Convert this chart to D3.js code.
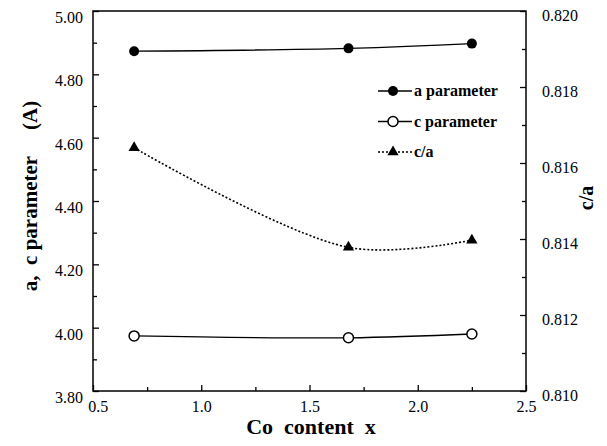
<!DOCTYPE html>
<html>
<head>
<meta charset="utf-8">
<script src="https://cdn.jsdelivr.net/npm/d3@7"></script>
<style>
  body { margin: 0; background: #fff; }
  svg text { font-family: "Liberation Serif", "Times New Roman", serif; fill: #000; }
</style>
</head>
<body>
<div id="chart"></div>
<script>
// values
var coContent = [0.69, 1.68, 2.25];
var aParam = [4.873, 4.882, 4.897];
var cParam = [3.974, 3.968, 3.980];
var cOverA = [0.8164, 0.81378, 0.81397];

var xMajor = [0.5, 1.0, 1.5, 2.0, 2.5];
var xMinor = [0.75, 1.25, 1.75, 2.25];
var leftMajor = [3.80, 4.00, 4.20, 4.40, 4.60, 4.80, 5.00];
var leftMinor = [3.90, 4.10, 4.30, 4.50, 4.70, 4.90];
var rightMajor = [0.810, 0.812, 0.814, 0.816, 0.818, 0.820];
var rightMinor = [0.811, 0.813, 0.815, 0.817, 0.819];

var legendItems = ["a parameter", "c parameter", "c/a"];

var width = 607, height = 446;
var pLeft = 93, pRight = 526, pTop = 11, pBottom = 391;
var serif = '"Liberation Serif", "Times New Roman", serif';

var svg = d3.select('#chart').append('svg')
  .attr('width', width)
  .attr('height', height);

var x = d3.scaleLinear().domain([0.5, 2.5]).range([pLeft, pRight]);
var y = d3.scaleLinear().domain([3.8, 5.0]).range([pBottom, pTop]);
var y2 = d3.scaleLinear().domain([0.810, 0.820]).range([pBottom, pTop]);

// frame
svg.append('rect')
  .attr('x', pLeft).attr('y', pTop)
  .attr('width', pRight - pLeft).attr('height', pBottom - pTop)
  .attr('fill', 'none').attr('stroke', '#000').attr('stroke-width', 1.5);

function ticksOnly(g) {
  g.select('.domain').remove();
  g.selectAll('.tick line').attr('stroke', '#000').attr('stroke-width', 1.3);
}
function labelsOnly(g) {
  g.attr('font-family', null);
  g.select('.domain').remove();
  g.selectAll('.tick line').remove();
  g.selectAll('.tick text').style('font-family', serif).style('font-size', '16px');
}

// inward ticks
svg.append('g').attr('transform', 'translate(' + pLeft + ',0)')
  .call(d3.axisRight(y).tickValues(leftMajor).tickSize(6).tickFormat('')).call(ticksOnly);
svg.append('g').attr('transform', 'translate(' + pLeft + ',0)')
  .call(d3.axisRight(y).tickValues(leftMinor).tickSize(4).tickFormat('')).call(ticksOnly);
svg.append('g').attr('transform', 'translate(' + pRight + ',0)')
  .call(d3.axisLeft(y2).tickValues(rightMajor).tickSize(6).tickFormat('')).call(ticksOnly);
svg.append('g').attr('transform', 'translate(' + pRight + ',0)')
  .call(d3.axisLeft(y2).tickValues(rightMinor).tickSize(4).tickFormat('')).call(ticksOnly);
svg.append('g').attr('transform', 'translate(0,' + pBottom + ')')
  .call(d3.axisTop(x).tickValues(xMajor).tickSize(6).tickFormat('')).call(ticksOnly);
svg.append('g').attr('transform', 'translate(0,' + pBottom + ')')
  .call(d3.axisTop(x).tickValues(xMinor).tickSize(4).tickFormat('')).call(ticksOnly);

// tick labels
svg.append('g').attr('transform', 'translate(' + pLeft + ',0)')
  .call(d3.axisLeft(y).tickValues(leftMajor).tickSize(0).tickPadding(10).tickFormat(d3.format('.2f')))
  .call(labelsOnly)
  .selectAll('text').attr('dy', '0.72em');
svg.append('g').attr('transform', 'translate(' + pRight + ',0)')
  .call(d3.axisRight(y2).tickValues(rightMajor).tickSize(0).tickPadding(16).tickFormat(d3.format('.3f')))
  .call(labelsOnly)
  .selectAll('text').attr('dy', '0.62em');
svg.append('g').attr('transform', 'translate(0,' + pBottom + ')')
  .call(d3.axisBottom(x).tickValues(xMajor).tickSize(0).tickPadding(10).tickFormat(d3.format('.1f')))
  .call(labelsOnly)
  .selectAll('text').attr('dx', function(d) { return d === 0.5 ? '0.3em' : 0; });

// axis titles
svg.append('text')
  .attr('transform', 'translate(37,' + 196 + ') rotate(-90)')
  .attr('text-anchor', 'middle')
  .style('font-size', '21px').style('font-weight', 'bold')
  .style('white-space', 'pre')
  .text('a,  c parameter     (A)');
svg.append('text')
  .attr('x', 311).attr('y', 434)
  .attr('text-anchor', 'middle')
  .style('font-size', '22px').style('font-weight', 'bold')
  .style('white-space', 'pre')
  .text('Co  content  x');
svg.append('text')
  .attr('transform', 'translate(593,' + 198 + ') rotate(-90)')
  .attr('text-anchor', 'middle')
  .style('font-size', '20px').style('font-weight', 'bold')
  .text('c/a');

// series
var pts = function(ys, scale) {
  return coContent.map(function(d, i) { return [x(d), scale(ys[i])]; });
};
var line = d3.line().curve(d3.curveCatmullRom.alpha(0.5));

svg.append('path').attr('d', line(pts(aParam, y)))
  .attr('fill', 'none').attr('stroke', '#000').attr('stroke-width', 1.3);
svg.append('path').attr('d', line(pts(cParam, y)))
  .attr('fill', 'none').attr('stroke', '#000').attr('stroke-width', 1.3);
svg.append('path').attr('d', line(pts(cOverA, y2)))
  .attr('fill', 'none').attr('stroke', '#000').attr('stroke-width', 1.6)
  .attr('stroke-dasharray', '2,2');

svg.selectAll('.ptA').data(pts(aParam, y)).enter().append('circle')
  .attr('cx', function(d) { return d[0]; }).attr('cy', function(d) { return d[1]; })
  .attr('r', 5).attr('fill', '#000');
svg.selectAll('.ptC').data(pts(cParam, y)).enter().append('circle')
  .attr('cx', function(d) { return d[0]; }).attr('cy', function(d) { return d[1]; })
  .attr('r', 5).attr('fill', '#fff').attr('stroke', '#000').attr('stroke-width', 1.5);
var tri = d3.symbol().type(d3.symbolTriangle).size(55);
svg.selectAll('.ptR').data(pts(cOverA, y2)).enter().append('path')
  .attr('d', tri)
  .attr('transform', function(d) { return 'translate(' + d[0] + ',' + d[1] + ')'; })
  .attr('fill', '#000');

// legend
var leg = svg.append('g').attr('transform', 'translate(378,91)');
legendItems.forEach(function(name, i) {
  var g = leg.append('g').attr('transform', 'translate(0,' + (i * 30.5) + ')');
  g.append('line').attr('x1', 0).attr('x2', 34).attr('y1', 0).attr('y2', 0)
    .attr('stroke', '#000').attr('stroke-width', i === 2 ? 1.6 : 1.3)
    .attr('stroke-dasharray', i === 2 ? '2,2' : null);
  if (i === 0) g.append('circle').attr('cx', 15).attr('r', 5).attr('fill', '#000');
  if (i === 1) g.append('circle').attr('cx', 15).attr('r', 5).attr('fill', '#fff')
    .attr('stroke', '#000').attr('stroke-width', 1.5);
  if (i === 2) g.append('path').attr('d', tri).attr('transform', 'translate(15,0)').attr('fill', '#000');
  g.append('text').attr('x', 36).attr('y', 5)
    .style('font-size', '16px').style('font-weight', 'bold')
    .text(name);
});
</script>
</body>
</html>
